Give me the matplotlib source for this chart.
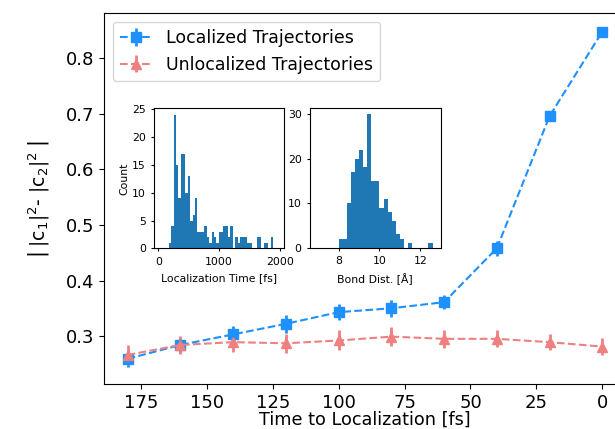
import numpy as np
import matplotlib.pyplot as plt

plt.rcParams['mathtext.default'] = 'regular'

# main curves
time_fs = [180, 160, 140, 120, 100, 80, 60, 40, 20, 0]
loc_vals = [0.259, 0.284, 0.303, 0.322, 0.343, 0.350, 0.361, 0.458, 0.696, 0.848]
loc_err = [0.014, 0.013, 0.015, 0.016, 0.015, 0.015, 0.013, 0.014, 0.006, 0.003]
unloc_vals = [0.266, 0.284, 0.289, 0.287, 0.292, 0.299, 0.295, 0.295, 0.289, 0.281]
unloc_err = [0.018, 0.016, 0.017, 0.017, 0.018, 0.017, 0.016, 0.015, 0.015, 0.015]

# inset 1: localization time histogram (bin width 39 fs, first bin at 173 fs)
lt_start = 173
lt_width = 39
lt_counts = [1, 4, 24, 15, 9, 17, 17, 10, 13, 5, 6, 9, 3, 3, 3, 4, 2, 1, 3, 2, 1,
             3, 3, 4, 4, 2, 4, 0, 2, 1, 2, 2, 2, 1, 1, 0, 0, 2, 2, 0, 1, 1, 0, 2]

# inset 2: bond distance histogram (bin width 0.2 A, first bin at 8.0 A)
bd_start = 8.0
bd_width = 0.2
bd_counts = [2, 2, 10, 17, 20, 22, 18, 30, 15, 15, 9, 11, 8, 6, 3, 2, 0, 1,
             0, 0, 0, 0, 1]

fig = plt.figure(figsize=(6.15, 4.29), dpi=100)
ax = fig.add_axes([0.169, 0.104, 0.849, 0.865])

ax.errorbar(time_fs, loc_vals, yerr=loc_err, fmt='s--', color='dodgerblue',
            ms=6.5, lw=1.5, elinewidth=2, capsize=0, label='Localized Trajectories')
ax.errorbar(time_fs, unloc_vals, yerr=unloc_err, fmt='^--', color='lightcoral',
            ms=6.5, lw=1.5, elinewidth=2, capsize=0, label='Unlocalized Trajectories')
ax.set_xlim(189, -9)
ax.set_ylim(0.213, 0.881)
ax.set_xticks([175, 150, 125, 100, 75, 50, 25, 0])
ax.set_yticks([0.3, 0.4, 0.5, 0.6, 0.7, 0.8])
ax.tick_params(labelsize=13)
ax.set_xlabel('Time to Localization [fs]', fontsize=12.7, labelpad=-1)
ax.set_ylabel(r'$\left|\genfrac{}{}{0}{}{\,}{\,}|c_1|^2\text{- }|c_2|^2\genfrac{}{}{0}{}{\,}{\,}\right|$',
              fontsize=13.5, labelpad=10)
ax.legend(loc='upper left', fontsize=12.5, borderaxespad=0.5, handlelength=1.9)

ins1 = fig.add_axes([0.2509, 0.4212, 0.2109, 0.3263])
lt_edges = lt_start + lt_width * np.arange(len(lt_counts))
ins1.bar(lt_edges, lt_counts, width=lt_width, align='edge', color='C0', lw=0)
ins1.set_xlim(-66, 2067)
ins1.set_ylim(0, 25.2)
ins1.set_xticks([0, 1000, 2000])
ins1.set_yticks([0, 5, 10, 15, 20, 25])
ins1.tick_params(labelsize=7.8, length=2.5)
ins1.set_xlabel('Localization Time [fs]', fontsize=7.8, labelpad=5)
ins1.set_ylabel('Count', fontsize=7.8, labelpad=2)

ins2 = fig.add_axes([0.5041, 0.4226, 0.2125, 0.3263])
bd_edges = bd_start + bd_width * np.arange(len(bd_counts))
ins2.bar(bd_edges, bd_counts, width=bd_width, align='edge', color='C0', lw=0)
ins2.set_xlim(6.6, 13.0)
ins2.set_ylim(0, 31.4)
ins2.set_xticks([8, 10, 12])
ins2.set_yticks([0, 10, 20, 30])
ins2.tick_params(labelsize=7.8, length=2.5)
ins2.set_xlabel('Bond Dist. [Å]', fontsize=7.8, labelpad=5)

fig.savefig('out.png', dpi=100)
